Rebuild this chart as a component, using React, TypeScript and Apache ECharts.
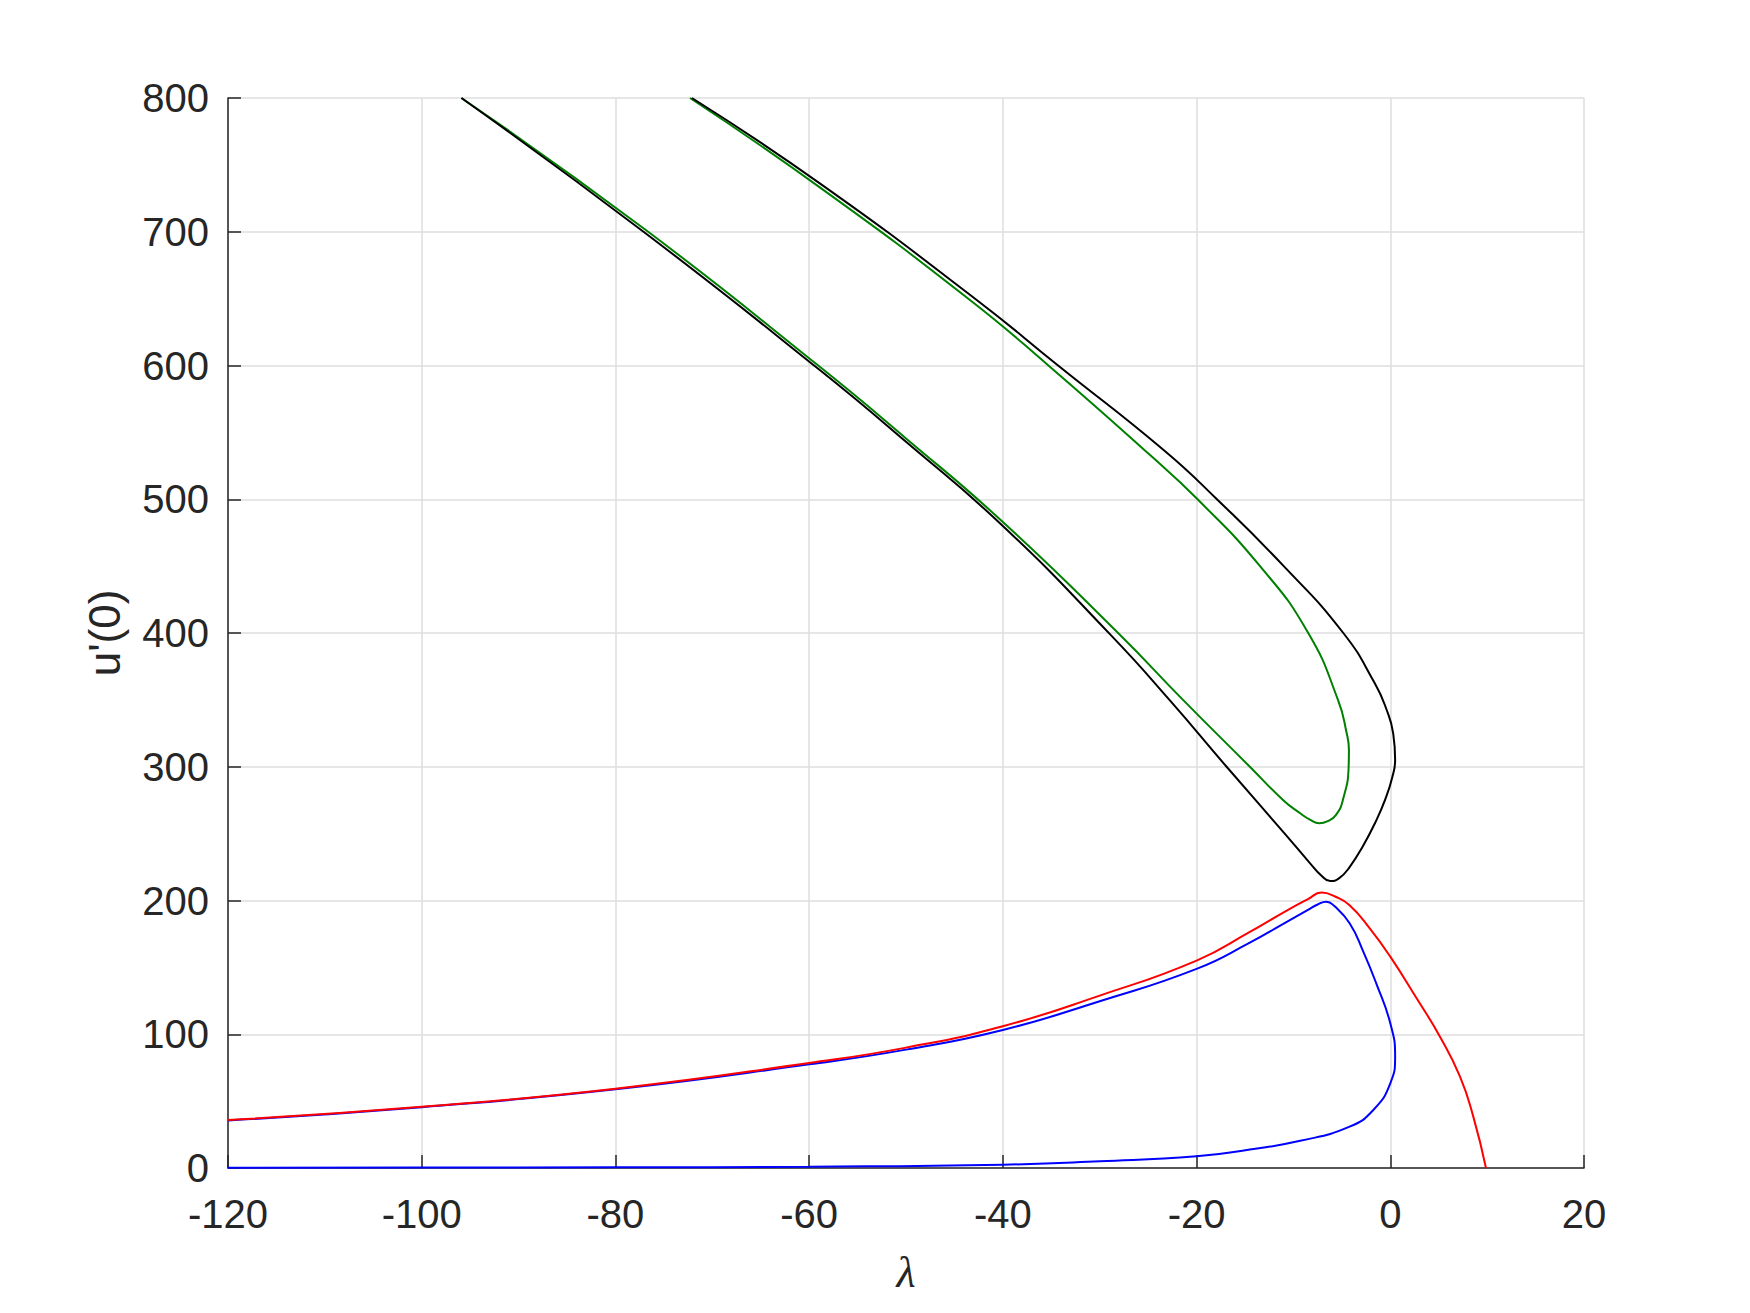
import React, { useEffect, useRef } from "react";
import * as echarts from "echarts";

// Axis ranges / ticks
const xMin = -120;
const xMax = 20;
const xStep = 20;
const yMin = 0;
const yMax = 800;
const yStep = 100;
const xLabel = "λ";
const yLabel = "u'(0)";

// Black curve: inner branch (top-left) down to the cusp, then outer branch back up
const blackLambda = [-95.9, -77.1, -58.9, -50, -40, -28.8, -22.8, -16.9, -10.9, -8.3, -7.1, -6.2, -5.3, -4.2, -2.8, -1.5, -0.5, 0.2, 0.5, 0.3, -0.4, -1.6, -4.85, -11, -17.9, -23.4, -34.3, -42.7, -58.9, -72.1];
const blackU = [800, 700, 596.6, 543, 480, 398, 350, 300, 250, 228, 218.5, 214.5, 216.5, 225, 241, 259, 276, 292, 305, 325, 343, 362.4, 400, 450, 500, 536.8, 600, 649, 736.2, 800];

// Green curve
const greenLambda = [-95.9, -77, -58.9, -50, -40, -28.1, -21.4, -14.5, -11.05, -9.3, -8.3, -7.33, -6.4, -5.6, -4.9, -4.3, -4.27, -4.5, -5.4, -8.47, -13.45, -20, -24.8, -35.3, -43.4, -58.9, -72.3];
const greenU = [800, 702, 599, 545.5, 483, 400, 350, 300, 275, 265.2, 260.5, 257.7, 259.5, 264, 275, 300, 312.5, 325, 350, 400, 450, 500.7, 533, 600, 649, 733.2, 800];

// Blue curve: upper branch from the left, around the nose, lower branch back to the left
const blueLambda = [-120, -100, -80, -60, -50, -40, -30, -20, -14.5, -11.05, -8.5, -7.5, -6.6, -5.8, -4.2, -2.8, -1.45, 0, 0.5, 0, -1.75, -4.2, -9.3, -14.5, -20, -30, -40, -60, -80, -100, -120];
const blueU = [35.5, 45.5, 58.8, 77.5, 88.5, 103.2, 124.7, 148.9, 168.5, 182.5, 193, 197, 199.1, 196, 183, 162, 138.1, 108.2, 83.2, 63.3, 43.4, 30.9, 20.3, 13.8, 8.7, 5, 2.5, 1.0, 0.5, 0.3, 0.2];

// Red curve
const redLambda = [-120, -100, -80, -60, -50, -40, -30, -20, -14.5, -11.05, -8.5, -7.1, -5.7, -4.2, -2.1, 0, 2.75, 5.13, 7.2, 8.57, 9.88];
const redU = [35.8, 45.8, 59.3, 78.5, 90, 106, 128.9, 155.1, 176.5, 191, 201, 205.9, 203, 196.5, 179, 158, 126.5, 98.2, 68.3, 38.4, 0];

const zip = (xs: number[], ys: number[]) => xs.map((x, i) => [x, ys[i]]);

export default function App() {
  const ref = useRef<HTMLDivElement>(null);
  useEffect(() => {
    const chart = echarts.init(ref.current!, null, { renderer: "svg" });
    const axisColor = "#262626";
    const gridColor = "#dedede";
    const font = "Liberation Sans";
    const lineSeries = (name: string, color: string, xs: number[], ys: number[]) => ({
      name,
      type: "line",
      data: zip(xs, ys),
      showSymbol: false,
      smooth: 0.5,
      clip: true,
      lineStyle: { color, width: 2 },
      itemStyle: { color },
    });
    chart.setOption({
      animation: false,
      backgroundColor: "#ffffff",
      grid: { left: 228, top: 98, width: 1356, height: 1070, containLabel: false },
      xAxis: {
        type: "value",
        min: xMin,
        max: xMax,
        interval: xStep,
        name: xLabel,
        nameLocation: "middle",
        nameGap: 82,
        nameTextStyle: { fontFamily: "Liberation Serif", fontStyle: "italic", fontSize: 44, color: axisColor },
        axisLine: { show: true, onZero: false, lineStyle: { color: axisColor, width: 1.5 } },
        axisTick: { show: true, inside: true, length: 13, lineStyle: { color: axisColor, width: 1.5 } },
        axisLabel: { fontFamily: font, fontSize: 40, color: axisColor, margin: 26 },
        splitLine: { show: true, lineStyle: { color: gridColor, width: 1.5 } },
      },
      yAxis: {
        type: "value",
        min: yMin,
        max: yMax,
        interval: yStep,
        name: yLabel,
        nameLocation: "middle",
        nameGap: 102,
        nameTextStyle: { fontFamily: font, fontSize: 44, color: axisColor },
        axisLine: { show: true, onZero: false, lineStyle: { color: axisColor, width: 1.5 } },
        axisTick: { show: true, inside: true, length: 13, lineStyle: { color: axisColor, width: 1.5 } },
        axisLabel: { fontFamily: font, fontSize: 40, color: axisColor, margin: 19 },
        splitLine: { show: true, lineStyle: { color: gridColor, width: 1.5 } },
      },
      series: [
        lineSeries("green", "#008000", greenLambda, greenU),
        lineSeries("black", "#000000", blackLambda, blackU),
        lineSeries("blue", "#0000ff", blueLambda, blueU),
        lineSeries("red", "#ff0000", redLambda, redU),
      ],
    });
    return () => chart.dispose();
  }, []);
  return (
    <div
      ref={ref}
      style={{ position: "fixed", left: 0, top: 0, width: 1750, height: 1313, background: "#ffffff" }}
    />
  );
}
